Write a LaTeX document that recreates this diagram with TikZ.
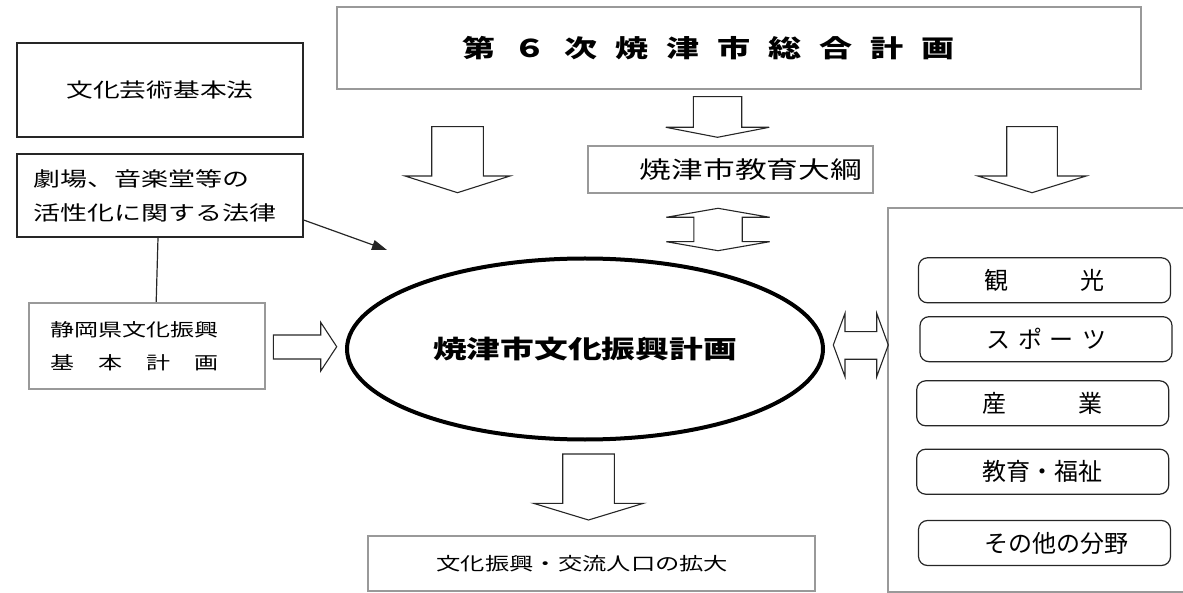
\documentclass[tikz,border=0pt]{standalone}
\usepackage{fontspec}
\newfontfamily\jp[FakeStretch=1.35]{Noto Sans CJK JP}
\newfontfamily\jpn{Noto Sans CJK JP}
\usetikzlibrary{positioning,shapes.geometric,arrows.meta}
\newcommand{\gap}{\hspace{18pt}}
% hollow block arrow pointing down: x, top, shaft end, tip, half shaft, half head
\newcommand{\blockdown}[6]{%
  \draw[blockarrow] (#1-#5,#2) -- (#1+#5,#2) -- (#1+#5,#3) -- (#1+#6,#3) -- (#1,#4)
    -- (#1-#6,#3) -- (#1-#5,#3) -- cycle;}

\begin{document}
\begin{tikzpicture}[x=1pt,y=-1pt]

       \tikzstyle{arrow} = [line width=1.2pt,draw=black!85,-{Triangle[length=15pt,width=10pt]}]
       \tikzset{graybox/.style = {rectangle, draw=gray!80, line width=1.8pt}, }
       \tikzset{darkbox/.style = {rectangle, draw=black!85, line width=1.2pt}, }
       \tikzset{field/.style = {rectangle, rounded corners=9pt, draw=black!85, line width=1.2pt,
         minimum width=252pt, minimum height=45pt, font=\jpn\fontsize{24}{28}\selectfont}, }
       \tikzset{blockarrow/.style = {draw=black!85, line width=1.1pt, line join=miter}, }

       \useasboundingbox (0,0) rectangle (1183,593);

       \node[graybox, minimum width=804pt, minimum height=82pt, inner xsep=125pt, text width=554pt,
         align=left, font=\jp\bfseries\fontsize{24.5}{28}\selectfont] (sogo) at (739,48.2)
         {第\gap ６\gap 次\gap 焼\gap 津\gap 市\gap 総\gap 合\gap 計\gap 画};
       \node[darkbox, minimum width=286pt, minimum height=94pt,
         font=\jp\fontsize{19.8}{24}\selectfont] (kihonho) at (160,90) {文化芸術基本法};
       \node[darkbox, minimum width=286pt, minimum height=83pt, inner xsep=16pt, text width=254pt,
         align=left, font=\jp\fontsize{20}{34}\selectfont] (gekijo) at (160,195.5)
         {劇場、音楽堂等の\\活性化に関する法律};
       \node[graybox, minimum width=235.7pt, minimum height=86.3pt, inner xsep=21pt, text width=193.7pt,
         align=left, font=\jp\fontsize{17.8}{32.7}\selectfont] (shizuoka) at (147.2,345.9)
         {静岡県文化振興\\基　本　計　画};
       \node[graybox, minimum width=284.4pt, minimum height=46.7pt, inner xsep=10.7pt, text width=263pt,
         align=right, font=\jp\fontsize{23.5}{28}\selectfont] (taiko) at (730.5,169.3) {焼津市教育大綱};
       \node[ellipse, draw, line width=4pt, minimum width=476pt, minimum height=181pt,
         font=\jp\bfseries\fontsize{25}{30}\selectfont] (keikaku) at (585,349) {焼津市文化振興計画};
       \node[graybox, minimum width=447.3pt, minimum height=55pt, inner xsep=69pt, text width=309.3pt,
         align=left, font=\jp\fontsize{18}{24}\selectfont] (kakudai) at (591.3,563.5) {文化振興・交流人口の拡大};

       % fields on the right (the frame is open at the right edge)
       \coordinate (bunya) at (888.3,208.3);
       \draw[draw=gray!80, line width=1.8pt] (1183,208.3) -- (bunya) |- (1183,591.7);
       \node[field] (kanko) at (1044.5,280.3) {観　　　光};
       \node[field] (sports) at (1046,339.2) {ス\hspace{8pt}ポ\hspace{8pt}ー\hspace{8pt}ツ};
       \node[field] (sangyo) at (1042.7,403.3) {産　　　業};
       \node[field] (fukushi) at (1042.7,471.7) {教育・福祉};
       \node[field] (sonota) at (1044.5,543) {　その他の分野};

       % connectors
       \coordinate (gekiend) at (387,250);
       \draw[arrow] ([yshift=-24.5pt]gekijo.east) -- (gekiend);
       \draw[line width=1.2pt,draw=black!85] ([xshift=-2pt]gekijo.south) -- ([xshift=9pt]shizuoka.north);

       \blockdown{457.5}{126.7}{176}{192.7}{25.8}{52.5}
       \blockdown{717.5}{96.7}{127.3}{137.3}{24.2}{51.7}
       \blockdown{1032}{126.7}{176}{192.7}{25.3}{54.2}
       \blockdown{588.5}{454}{503.3}{520}{25.8}{55}
       \draw[blockarrow] (273.3,335) -- (320.7,335) -- (320.7,322.3) -- (336.7,346.7)
         -- (320.7,371) -- (320.7,359) -- (273.3,359) -- cycle;
       \draw[blockarrow] (718,208.3) -- (769.7,217.3) -- (742.2,217.3) -- (742.2,241.7)
         -- (769.7,241.7) -- (718,250.7) -- (666.3,241.7) -- (693.8,241.7) -- (693.8,217.3)
         -- (666.3,217.3) -- cycle;
       \draw[blockarrow] (833.3,345) -- (845,313.3) -- (845,331.7) -- (876.7,331.7)
         -- (876.7,313.3) -- (888.3,345) -- (876.7,376.7) -- (876.7,359.3) -- (845,359.3)
         -- (845,376.7) -- cycle;

\end{tikzpicture}
\end{document}
